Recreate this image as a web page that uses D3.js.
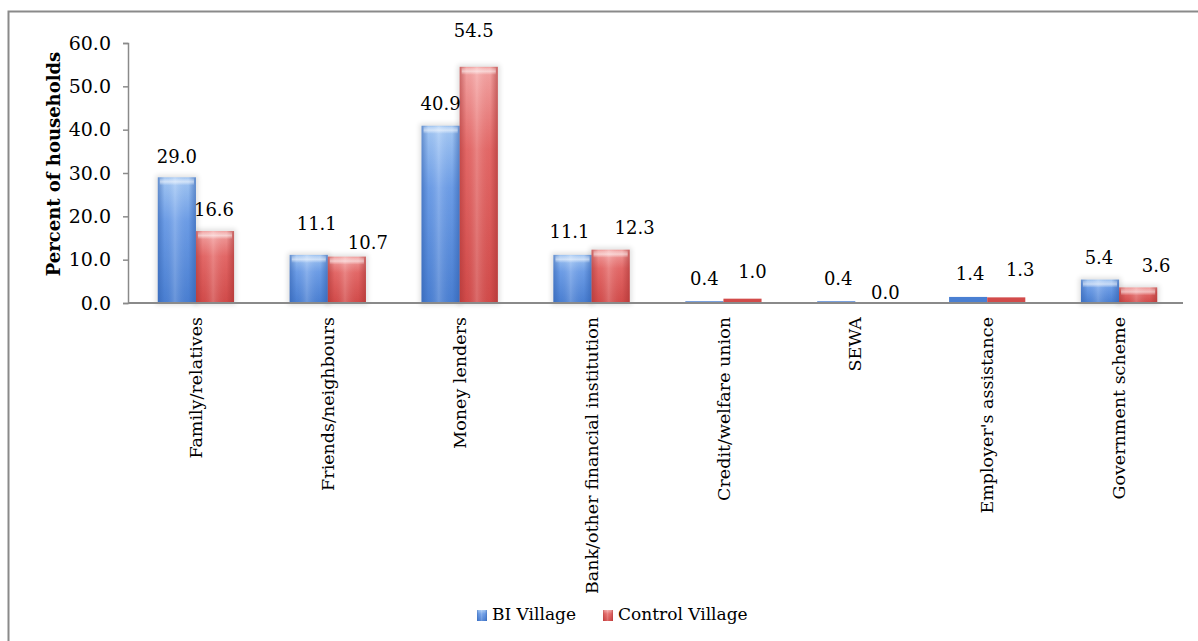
<!DOCTYPE html>
<html>
<head>
<meta charset="utf-8">
<script src="https://cdn.jsdelivr.net/npm/d3@7"></script>
<style>
  html, body { margin: 0; padding: 0; background: #ffffff; }
  svg { display: block; }
  text { font-family: "DejaVu Serif", "Liberation Serif", serif; fill: #000; }
</style>
</head>
<body>
<svg id="chart" width="1198" height="641"></svg>
<script>
// Sources of borrowing, percent of households
const categories = [
  "Family/relatives", "Friends/neighbours", "Money lenders",
  "Bank/other financial institution", "Credit/welfare union", "SEWA",
  "Employer's assistance", "Government scheme"
];
const seriesNames = ["BI Village", "Control Village"];
const biVillage      = [29.0, 11.1, 40.9, 11.1, 0.4, 0.4, 1.4, 5.4];
const controlVillage = [16.6, 10.7, 54.5, 12.3, 1.0, 0.0, 1.3, 3.6];
const yTicks = [0, 10, 20, 30, 40, 50, 60];

// hand-placed label offsets (px) from the default spot above each bar
const labelNudgeBI      = [[0, 2], [8, -9], [0, 0], [-3, -1], [0, 0], [2, 0], [2, -1], [-1, 0]];
const labelNudgeControl = [[-1, 1], [21, 8], [-5, -14], [24, 0], [10, -5], [11, 12], [14, -5], [18, 1]];

const svg = d3.select("#chart");
const defs = svg.append("defs");

// frame around the chart area
svg.append("rect")
  .attr("x", 8.5).attr("y", 11.5)
  .attr("width", 1400).attr("height", 800)
  .attr("fill", "none").attr("stroke", "#8a8a8a").attr("stroke-width", 2);

const plot = { left: 128, right: 1183, top: 43, bottom: 303 };

const y = d3.scaleLinear().domain([0, 60]).range([plot.bottom, plot.top]);
const x0 = d3.scaleBand().domain(categories).range([plot.left + 2, plot.right + 2]).padding(0);
const x1 = d3.scaleBand().domain(seriesNames).range([0, x0.bandwidth()])
  .paddingInner(0).paddingOuter(0.73);

const palette = {
  "BI Village":      { top: "#a9ccf6", mid: "#6f9fe8", base: "#4a7fd2", edge: "#2f5fae" },
  "Control Village": { top: "#f6aaa9", mid: "#e56a69", base: "#d24b4a", edge: "#a83232" }
};

// gradients giving the bars their rounded, glossy look
seriesNames.forEach((s, i) => {
  const c = palette[s];
  const v = defs.append("linearGradient").attr("id", "v" + i)
    .attr("x1", 0).attr("y1", 0).attr("x2", 0).attr("y2", 1);
  v.append("stop").attr("offset", "0%").attr("stop-color", c.top);
  v.append("stop").attr("offset", "35%").attr("stop-color", c.mid);
  v.append("stop").attr("offset", "100%").attr("stop-color", c.base);

  const h = defs.append("linearGradient").attr("id", "h" + i)
    .attr("x1", 0).attr("y1", 0).attr("x2", 1).attr("y2", 0);
  h.append("stop").attr("offset", "0%").attr("stop-color", c.edge).attr("stop-opacity", 0.55);
  h.append("stop").attr("offset", "18%").attr("stop-color", c.edge).attr("stop-opacity", 0.05);
  h.append("stop").attr("offset", "45%").attr("stop-color", "#ffffff").attr("stop-opacity", 0.18);
  h.append("stop").attr("offset", "80%").attr("stop-color", c.edge).attr("stop-opacity", 0.05);
  h.append("stop").attr("offset", "100%").attr("stop-color", c.edge).attr("stop-opacity", 0.6);
});
const cap = defs.append("linearGradient").attr("id", "cap")
  .attr("x1", 0).attr("y1", 0).attr("x2", 0).attr("y2", 1);
cap.append("stop").attr("offset", "0%").attr("stop-color", "#ffffff").attr("stop-opacity", 0.15);
cap.append("stop").attr("offset", "50%").attr("stop-color", "#ffffff").attr("stop-opacity", 0.55);
cap.append("stop").attr("offset", "100%").attr("stop-color", "#ffffff").attr("stop-opacity", 0.0);

const blur = defs.append("filter").attr("id", "shadow")
  .attr("x", "-50%").attr("y", "-50%").attr("width", "200%").attr("height", "200%");
blur.append("feGaussianBlur").attr("stdDeviation", 2.5);

const rows = categories.map((c, i) => ({
  category: c,
  values: [
    { series: seriesNames[0], si: 0, value: biVillage[i], nudge: labelNudgeBI[i] },
    { series: seriesNames[1], si: 1, value: controlVillage[i], nudge: labelNudgeControl[i] }
  ]
}));

const groups = svg.append("g").selectAll("g").data(rows).join("g")
  .attr("transform", d => `translate(${x0(d.category)},0)`);

// soft shadow behind the taller bars
groups.selectAll("rect.shadow").data(d => d.values.filter(v => y(0) - y(v.value) > 8)).join("rect")
  .attr("class", "shadow")
  .attr("x", d => x1(d.series) - 2)
  .attr("y", d => y(d.value) - 2)
  .attr("width", x1.bandwidth() + 4)
  .attr("height", d => y(0) - y(d.value) + 4)
  .attr("fill", "#000").attr("opacity", 0.12)
  .attr("filter", "url(#shadow)");

groups.selectAll("rect.bar").data(d => d.values).join("rect")
  .attr("class", "bar")
  .attr("x", d => x1(d.series))
  .attr("y", d => y(d.value))
  .attr("width", x1.bandwidth())
  .attr("height", d => y(0) - y(d.value))
  .attr("fill", d => y(0) - y(d.value) > 8 ? `url(#v${d.si})` : palette[d.series].base);

groups.selectAll("rect.shade").data(d => d.values.filter(v => y(0) - y(v.value) > 8)).join("rect")
  .attr("class", "shade")
  .attr("x", d => x1(d.series))
  .attr("y", d => y(d.value))
  .attr("width", x1.bandwidth())
  .attr("height", d => y(0) - y(d.value))
  .attr("fill", d => `url(#h${d.si})`);

groups.selectAll("rect.cap").data(d => d.values.filter(v => y(0) - y(v.value) > 8)).join("rect")
  .attr("class", "cap")
  .attr("x", d => x1(d.series) + 2)
  .attr("y", d => y(d.value) + 1)
  .attr("width", x1.bandwidth() - 4)
  .attr("height", 7)
  .attr("fill", "url(#cap)");

// value labels
groups.selectAll("text.val").data(d => d.values).join("text")
  .attr("class", "val")
  .attr("x", d => x1(d.series) + x1.bandwidth() / 2 + d.nudge[0])
  .attr("y", d => y(d.value) - 16 + d.nudge[1])
  .attr("text-anchor", "middle")
  .style("font-size", "18px")
  .text(d => d3.format(".1f")(d.value));

// y axis
const yAxis = svg.append("g")
  .attr("transform", `translate(${plot.left},0)`)
  .call(d3.axisLeft(y).tickValues(yTicks).tickFormat(d3.format(".1f")).tickSize(5).tickPadding(12));
yAxis.select(".domain").attr("stroke", "#8a8a8a").attr("stroke-width", 1.5);
yAxis.selectAll(".tick line").attr("stroke", "#8a8a8a").attr("stroke-width", 1.5);
yAxis.selectAll(".tick text")
  .style("font-size", "19px").style("font-family", '"DejaVu Serif", serif').attr("fill", "#000");

// x axis baseline
svg.append("line")
  .attr("x1", plot.left).attr("x2", plot.right)
  .attr("y1", y(0)).attr("y2", y(0))
  .attr("stroke", "#8a8a8a").attr("stroke-width", 2);

// category labels, rotated
svg.append("g").selectAll("text").data(categories).join("text")
  .attr("transform", d => `translate(${x0(d) + x0.bandwidth() / 2},317) rotate(-90)`)
  .attr("text-anchor", "end")
  .attr("dy", "0.35em")
  .style("font-size", "17.5px")
  .text(d => d);

// y axis title
svg.append("text")
  .attr("transform", "translate(54,164) rotate(-90)")
  .attr("text-anchor", "middle")
  .attr("dy", "0.35em")
  .style("font-size", "18px").style("font-weight", "bold")
  .text("Percent of households");

// legend
const legendPos = [477, 603];
const legend = svg.append("g").selectAll("g").data(seriesNames).join("g")
  .attr("transform", (d, i) => `translate(${legendPos[i]},610)`);
legend.append("rect")
  .attr("width", 10).attr("height", 11)
  .attr("fill", (d, i) => `url(#v${i})`);
legend.append("rect")
  .attr("width", 10).attr("height", 11)
  .attr("fill", (d, i) => `url(#h${i})`);
legend.append("text")
  .attr("x", 15).attr("y", 10)
  .style("font-size", "17px")
  .text(d => d);
</script>
</body>
</html>
